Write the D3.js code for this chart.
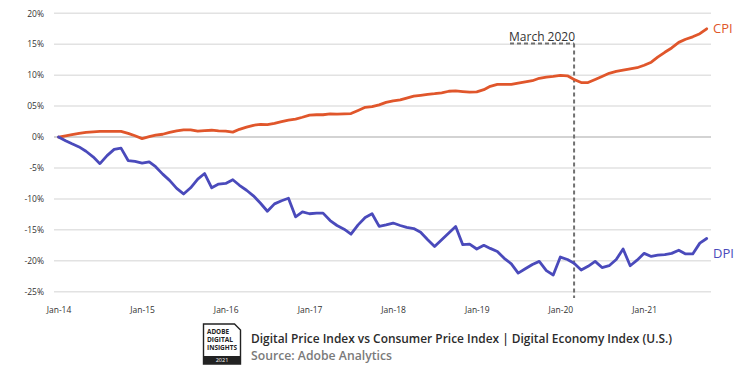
<!DOCTYPE html>
<html>
<head>
<meta charset="utf-8">
<script src="https://cdn.jsdelivr.net/npm/d3@7"></script>
<style>
  html, body { margin: 0; padding: 0; background: #fff; }
  svg { display: block; }
  text { font-family: "Open Sans", "Noto Sans", sans-serif; }
</style>
</head>
<body>
<svg id="chart" width="750" height="365"></svg>
<script>
// ---- data (monthly, Jan-2014 .. Oct-2021, cumulative % change since Jan-2014) ----
const startMonth = new Date(2014, 0, 1);
const endMonth = new Date(2021, 9, 1);
const months = d3.timeMonth.range(startMonth, new Date(2021, 10, 1));

const cpi = [
  0, 0.2, 0.4, 0.6, 0.75, 0.85, 0.9, 0.92, 0.92, 0.9, 0.6, 0.2,
  -0.25, 0.05, 0.3, 0.45, 0.75, 1.0, 1.15, 1.15, 0.95, 1.05, 1.1, 1.0,
  0.95, 0.8, 1.25, 1.6, 1.9, 2.05, 2.0, 2.2, 2.5, 2.75, 2.9, 3.2,
  3.55, 3.6, 3.6, 3.75, 3.7, 3.75, 3.8, 4.3, 4.8, 4.9, 5.2, 5.6,
  5.85, 6.0, 6.3, 6.6, 6.75, 6.9, 7.0, 7.15, 7.4, 7.45, 7.35, 7.25,
  7.3, 7.65, 8.2, 8.5, 8.5, 8.5, 8.7, 8.9, 9.1, 9.5, 9.7, 9.8,
  9.95, 9.9, 9.3, 8.8, 8.8, 9.3, 9.8, 10.3, 10.6, 10.8, 11.0, 11.2,
  11.6, 12.1, 12.9, 13.7, 14.4, 15.3, 15.8, 16.2, 16.7, 17.5
];

const dpi = [
  0, -0.6, -1.1, -1.6, -2.3, -3.2, -4.3, -3.0, -2.0, -1.8, -3.8, -3.95,
  -4.2, -4.0, -4.8, -6.0, -7.0, -8.3, -9.2, -8.2, -6.8, -5.9, -8.2, -7.6,
  -7.5, -6.9, -7.8, -8.6, -9.5, -10.7, -12.0, -10.8, -10.3, -9.9, -12.9, -12.1,
  -12.4, -12.3, -12.3, -13.5, -14.3, -14.9, -15.7, -14.2, -13.0, -12.4, -14.45, -14.2,
  -13.9, -14.3, -14.6, -14.8, -15.4, -16.6, -17.7, -16.6, -15.5, -14.45, -17.4, -17.3,
  -18.1, -17.5, -18.0, -18.5, -19.6, -20.5, -22.0, -21.3, -20.6, -20.1, -21.6, -22.3,
  -19.4, -19.8, -20.4, -21.5, -20.9, -20.1, -21.1, -20.8, -19.8, -18.1, -20.8, -19.9,
  -18.8, -19.3, -19.1, -19.0, -18.8, -18.3, -18.9, -18.9, -17.15, -16.4
];

const yTicks = [20, 15, 10, 5, 0, -5, -10, -15, -20, -25];
const yTickLabels = ["20%", "15%", "10%", "05%", "0%", "-5%", "-10%", "-15%", "-20%", "-25%"];
const xTickDates = [2014, 2015, 2016, 2017, 2018, 2019, 2020, 2021].map(y => new Date(y, 0, 1));
const xTickLabels = ["Jan-14", "Jan-15", "Jan-16", "Jan-17", "Jan-18", "Jan-19", "Jan-20", "Jan-21"];
const annotationDate = new Date(2020, 2, 1);
const annotationText = "March 2020";
const seriesNames = ["CPI", "DPI"];
const titleText = "Digital Price Index vs Consumer Price Index | Digital Economy Index (U.S.)";
const sourceText = "Source: Adobe Analytics";
const logoLines = ["ADOBE", "DIGITAL", "INSIGHTS"];
const logoYear = "2021";

// ---- layout ----
const cpiColor = "#e0562b";
const dpiColor = "#4a4abb";
const svg = d3.select("#chart");

const x = d3.scaleTime().domain([startMonth, endMonth]).range([58.5, 706.7]);
const y = d3.scaleLinear().domain([-25, 20]).range([291.7, 13.3]);

// gridlines
const grid = svg.append("g");
grid.selectAll("line").data(yTicks).join("line")
  .attr("x1", 54).attr("x2", 711)
  .attr("y1", d => y(d)).attr("y2", d => y(d))
  .attr("stroke", d => d === 0 ? "#c4c4c4" : "#e2e2e2")
  .attr("stroke-width", 1.5);

// y axis
const yAxis = d3.axisLeft(y).tickValues(yTicks)
  .tickFormat((d, i) => yTickLabels[i]).tickSize(0).tickPadding(0);
const gy = svg.append("g").attr("transform", "translate(44,0)").call(yAxis);
gy.select(".domain").remove();
gy.selectAll("text").attr("font-size", "8.5px").attr("fill", "#333")
  .attr("font-family", "'Open Sans', sans-serif");

// x axis
const xAxis = d3.axisBottom(x).tickValues(xTickDates)
  .tickFormat((d, i) => xTickLabels[i]).tickSize(0).tickPadding(0);
const gx = svg.append("g").attr("transform", "translate(0,307)").call(xAxis);
gx.select(".domain").remove();
gx.selectAll("text").attr("font-size", "8.5px").attr("fill", "#333")
  .attr("font-family", "'Open Sans', sans-serif");

// annotation
const ax = x(annotationDate);
svg.append("line")
  .attr("x1", ax).attr("x2", ax).attr("y1", 43.5).attr("y2", 298)
  .attr("stroke", "#707070").attr("stroke-width", 2).attr("stroke-dasharray", "4,3");
svg.append("line")
  .attr("x1", 510).attr("x2", ax).attr("y1", 43.5).attr("y2", 43.5)
  .attr("stroke", "#707070").attr("stroke-width", 2).attr("stroke-dasharray", "4,3");
svg.append("text")
  .attr("x", ax + 1).attr("y", 41).attr("text-anchor", "end")
  .attr("font-size", "12px").attr("fill", "#333")
  .text(annotationText);

// lines
const line = vals => d3.line()
  .x((d, i) => x(months[i]))
  .y(d => y(d))(vals);

svg.append("path").attr("d", line(cpi))
  .attr("fill", "none").attr("stroke", cpiColor).attr("stroke-width", 2.8)
  .attr("stroke-linejoin", "round").attr("stroke-linecap", "round");
svg.append("path").attr("d", line(dpi))
  .attr("fill", "none").attr("stroke", dpiColor).attr("stroke-width", 2.8)
  .attr("stroke-linejoin", "round").attr("stroke-linecap", "round");

// series labels
svg.append("text").attr("x", 713).attr("y", 33)
  .attr("font-size", "13px").attr("fill", cpiColor).text(seriesNames[0]);
svg.append("text").attr("x", 713).attr("y", 258)
  .attr("font-size", "13px").attr("fill", dpiColor).text(seriesNames[1]);

// footer logo
const logo = svg.append("g").attr("transform", "translate(203.5,324)");
logo.append("path")
  .attr("d", "M0,0 H31 L37,6 V40 H0 Z")
  .attr("fill", "#fff").attr("stroke", "#222").attr("stroke-width", 1.4);
const logoLens = [22, 26, 30];
logo.selectAll("text.l").data(logoLines).join("text").attr("class", "l")
  .attr("x", 3.5).attr("y", (d, i) => 9.5 + i * 8.3)
  .attr("font-size", "7px").attr("font-weight", 700).attr("fill", "#222")
  .attr("textLength", (d, i) => logoLens[i]).attr("lengthAdjust", "spacingAndGlyphs")
  .text(d => d);
logo.append("rect").attr("x", 0).attr("y", 32).attr("width", 37).attr("height", 8).attr("fill", "#222");
logo.append("text").attr("x", 18.5).attr("y", 38).attr("text-anchor", "middle")
  .attr("font-size", "5.5px").attr("fill", "#fff").text(logoYear);

svg.append("text").attr("x", 251).attr("y", 343)
  .attr("font-size", "13px").attr("font-weight", 600).attr("fill", "#2b2b2b")
  .attr("textLength", 421).attr("lengthAdjust", "spacingAndGlyphs")
  .text(titleText);
svg.append("text").attr("x", 251).attr("y", 360)
  .attr("font-size", "13px").attr("font-weight", 600).attr("fill", "#7a7a7a")
  .attr("textLength", 141).attr("lengthAdjust", "spacingAndGlyphs")
  .text(sourceText);
</script>
</body>
</html>
